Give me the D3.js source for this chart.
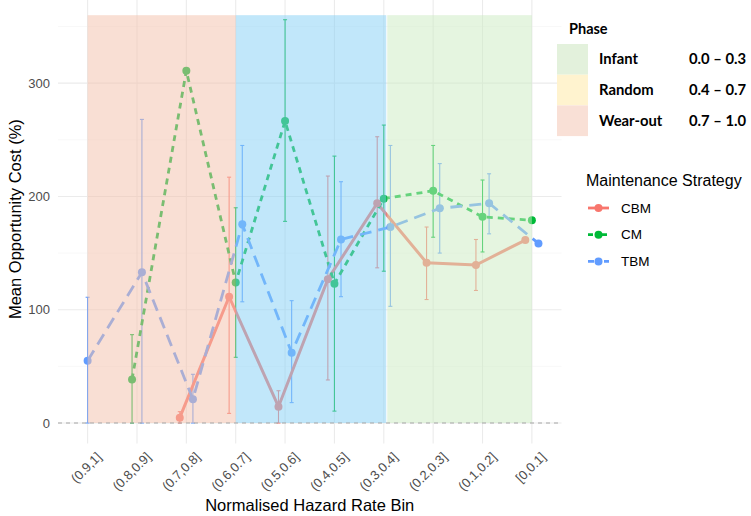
<!DOCTYPE html>
<html>
<head>
<meta charset="utf-8">
<script src="https://cdn.jsdelivr.net/npm/d3@7"></script>
<style>
  body { margin: 0; background: #fff; }
  svg { display: block; font-family: "Liberation Sans", Arial, sans-serif; }
</style>
</head>
<body>
<svg id="chart" width="751" height="516"></svg>
<script>
// bins, from high hazard to low hazard
const bins = ["(0.9,1]", "(0.8,0.9]", "(0.7,0.8]", "(0.6,0.7]", "(0.5,0.6]",
              "(0.4,0.5]", "(0.3,0.4]", "(0.2,0.3]", "(0.1,0.2]", "[0,0.1]"];
const strategies = ["CBM", "CM", "TBM"];

// mean opportunity cost (%) and error bar limits per bin
const cbmMean = [null, null, 4.7, 111.5, 14.4, 127, 194, 141.5, 139.5, 161.5];
const cbmLow  = [null, null, 0, 8.5, 0, 38, 137, 109, 117, null];
const cbmHigh = [null, null, 10, 217, 28.5, 218, 252.7, 173, 162, null];

const cmMean = [null, 38.5, 311, 124, 266.5, 123, 198, 205, 182, 179];
const cmLow  = [null, 0, null, 58, 178, 10.5, 134, 164, 151, null];
const cmHigh = [null, 78, null, 190, 356, 235.6, 263, 245, 214.5, null];

const tbmMean = [55, 133, 21, 175.5, 62, 162, 173, 189.5, 194, 158.5];
const tbmLow  = [0, 0, 0, 107, 18, 111.5, 103, 150, 167, null];
const tbmHigh = [111, 268, 43, 245, 108, 213, 245, 229, 220, null];

// phases
const phaseNames  = ["Infant", "Random", "Wear-out"];
const phaseRanges = ["0.0 \u2013 0.3", "0.4 \u2013 0.7", "0.7 \u2013 1.0"];
const phaseFrom = ["(0.3,0.4]", "(0.6,0.7]", "(0.9,1]"];
const phaseTo   = ["[0,0.1]", "(0.3,0.4]", "(0.6,0.7]"];
const phaseTop = 360;

const yTicks = [0, 100, 200, 300];
const yMinor = [50, 150, 250, 350];

// ---------------------------------------------------------------
const colStrat = { CBM: "#F8766D", CM: "#00BA38", TBM: "#619CFF" };
const dashStrat = { CBM: null, CM: "6,5", TBM: "12,7" };
const plotFill = { "Infant": "#cbebc1", "Random": "#83cff5", "Wear-out": "#f3bfa9" };
const legFill = { "Infant": "#e3f1dc", "Random": "#fff3cf", "Wear-out": "#f9e0d6" };
// the blue band ends a hair after its bin and the green starts after a small gap
const phaseShift = { "Infant": [0.07, 0], "Random": [0, 0.05], "Wear-out": [0, 0] };

const svg = d3.select("#chart");
const px = { left: 58, right: 561.5, top: -5.2, bottom: 443.4 };

const x = d3.scaleLinear().domain([-0.6, bins.length - 0.4]).range([px.left, px.right]);
const y = d3.scaleLinear().domain([-18, 378]).range([px.bottom, px.top]);
const bi = b => bins.indexOf(b);

const series = {
  CBM: { mean: cbmMean, low: cbmLow, high: cbmHigh },
  CM:  { mean: cmMean,  low: cmLow,  high: cmHigh },
  TBM: { mean: tbmMean, low: tbmLow, high: tbmHigh }
};

// dodge (width 0.4) based on the strategies present in each bin
const rows = [];
bins.forEach((b, i) => {
  const present = strategies.filter(s => series[s].mean[i] != null);
  const n = present.length;
  present.forEach((s, k) => {
    const off = n > 1 ? -0.2 + 0.4 * (k + 0.5) / n : 0;
    rows.push({ s, i, xp: i + off, m: series[s].mean[i], lo: series[s].low[i], hi: series[s].high[i] });
  });
});

// grid
const grid = svg.append("g");
grid.selectAll(".gminor").data(yMinor).join("line")
  .attr("x1", px.left).attr("x2", px.right)
  .attr("y1", d => y(d)).attr("y2", d => y(d))
  .attr("stroke", "#f3f3f3").attr("stroke-width", 0.6);
grid.selectAll(".gmajor").data(yTicks).join("line")
  .attr("x1", px.left).attr("x2", px.right)
  .attr("y1", d => y(d)).attr("y2", d => y(d))
  .attr("stroke", "#ebebeb").attr("stroke-width", 1.1);
grid.selectAll(".gx").data(bins).join("line")
  .attr("x1", (d, i) => x(i)).attr("x2", (d, i) => x(i))
  .attr("y1", px.top).attr("y2", px.bottom)
  .attr("stroke", "#ebebeb").attr("stroke-width", 1.1);

// error bars
const eb = svg.append("g");
rows.filter(r => r.lo != null).forEach(r => {
  const g = eb.append("g").attr("stroke", colStrat[r.s]).attr("stroke-width", 1.1);
  g.append("line").attr("x1", x(r.xp)).attr("x2", x(r.xp)).attr("y1", y(r.lo)).attr("y2", y(r.hi));
  g.append("line").attr("x1", x(r.xp) - 2).attr("x2", x(r.xp) + 2).attr("y1", y(r.lo)).attr("y2", y(r.lo));
  g.append("line").attr("x1", x(r.xp) - 2).attr("x2", x(r.xp) + 2).attr("y1", y(r.hi)).attr("y2", y(r.hi));
});

// lines
const line = d3.line().x(d => x(d.xp)).y(d => y(d.m));
strategies.forEach(s => {
  svg.append("path")
    .datum(rows.filter(r => r.s === s))
    .attr("d", line)
    .attr("fill", "none")
    .attr("stroke", colStrat[s])
    .attr("stroke-width", s === "CBM" ? 3 : 2.8)
    .attr("stroke-dasharray", dashStrat[s]);
});

// points
svg.append("g").selectAll("circle").data(rows).join("circle")
  .attr("cx", d => x(d.xp)).attr("cy", d => y(d.m))
  .attr("r", 4).attr("fill", d => colStrat[d.s]);

// phase bands drawn over the data
svg.append("g").selectAll("rect").data(phaseNames).join("rect")
  .attr("x", (d, k) => x(bi(phaseFrom[k]) + phaseShift[d][0]))
  .attr("width", (d, k) => x(bi(phaseTo[k]) + phaseShift[d][1]) - x(bi(phaseFrom[k]) + phaseShift[d][0]))
  .attr("y", y(phaseTop))
  .attr("height", y(0) - y(phaseTop))
  .attr("fill", d => plotFill[d])
  .attr("opacity", 0.5);

// zero reference line
svg.append("line")
  .attr("x1", px.left).attr("x2", px.right)
  .attr("y1", y(0)).attr("y2", y(0))
  .attr("stroke", "#a6a6a6").attr("stroke-width", 1)
  .attr("stroke-dasharray", "4,4");

// y axis labels
svg.append("g").selectAll("text").data(yTicks).join("text")
  .attr("x", 50).attr("y", d => y(d)).attr("dy", "0.35em")
  .attr("text-anchor", "end").attr("font-size", 13).attr("fill", "#4d4d4d")
  .text(d => d);

// x axis labels
svg.append("g").selectAll("text").data(bins).join("text")
  .attr("transform", (d, i) => `translate(${x(i) + 8},${451}) rotate(-45)`)
  .attr("text-anchor", "end").attr("dominant-baseline", "hanging")
  .attr("font-size", 13).attr("fill", "#4d4d4d")
  .text(d => d);

// axis titles
svg.append("text")
  .attr("x", (px.left + px.right) / 2).attr("y", 511)
  .attr("text-anchor", "middle").attr("font-size", 16.5).attr("fill", "#000")
  .text("Normalised Hazard Rate Bin");
svg.append("text")
  .attr("transform", `translate(21,${(px.top + px.bottom) / 2}) rotate(-90)`)
  .attr("text-anchor", "middle").attr("font-size", 16.5).attr("fill", "#000")
  .text("Mean Opportunity Cost (%)");

// phase legend
const pl = svg.append("g").attr("font-family", "Lato, 'Open Sans', sans-serif").attr("font-weight", "bold");
pl.append("text").attr("x", 569).attr("y", 34).attr("font-size", 14.5).text("Phase");
phaseNames.forEach((p, k) => {
  const yy = 44 + k * 30.7;
  pl.append("rect").attr("x", 557).attr("y", yy).attr("width", 31).attr("height", 30.7).attr("fill", legFill[p]);
  pl.append("text").attr("x", 599).attr("y", yy + 15.3).attr("dy", "0.35em").attr("font-size", 14.8).text(p);
  pl.append("text").attr("x", 689).attr("y", yy + 15.3).attr("dy", "0.35em").attr("font-size", 14.8).text(phaseRanges[k]);
});

// strategy legend
const sl = svg.append("g");
sl.append("text").attr("x", 586).attr("y", 180).attr("dy", "0.35em").attr("font-size", 16).text("Maintenance Strategy");
strategies.forEach((s, k) => {
  const yy = 208 + k * 26.7;
  sl.append("line").attr("x1", 588).attr("x2", 609).attr("y1", yy).attr("y2", yy)
    .attr("stroke", colStrat[s]).attr("stroke-width", 2.8)
    .attr("stroke-dasharray", s === "CBM" ? null : (s === "CM" ? "5,2" : "6,2"));
  sl.append("circle").attr("cx", 598.5).attr("cy", yy).attr("r", 4).attr("fill", colStrat[s]);
  sl.append("text").attr("x", 621).attr("y", yy).attr("dy", "0.35em").attr("font-size", 13.5).text(s);
});
</script>
</body>
</html>
